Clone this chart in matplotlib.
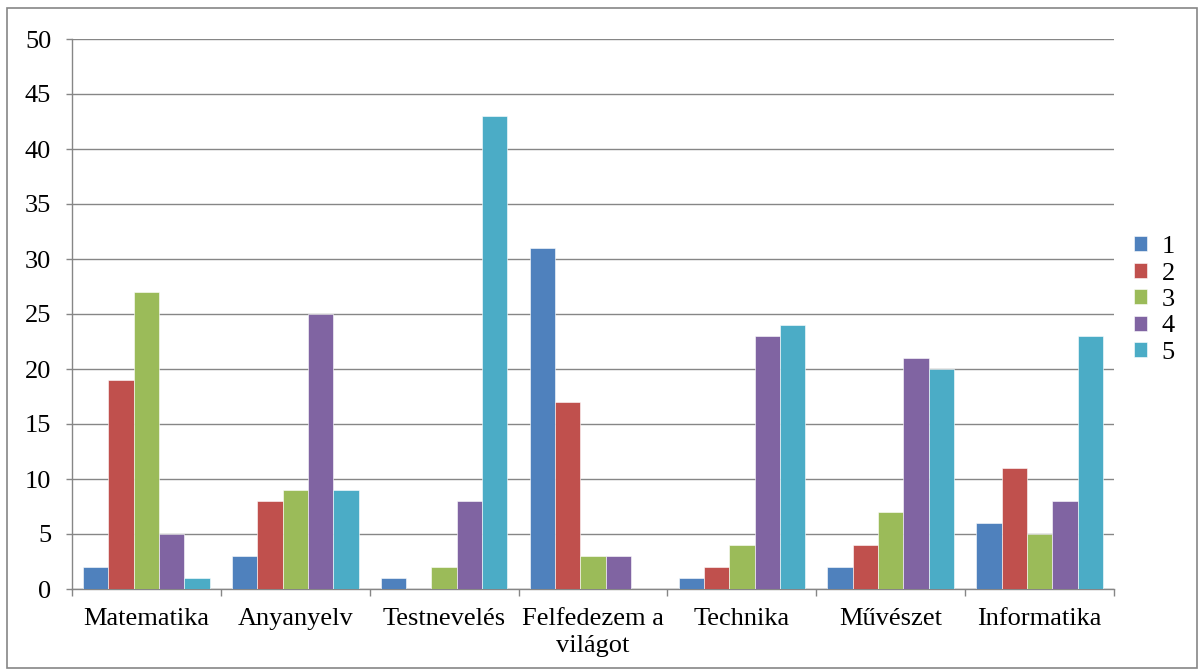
import numpy as np
import matplotlib.pyplot as plt
from matplotlib.patches import Rectangle

categories = ['Matematika', 'Anyanyelv', 'Testnevelés', 'Felfedezem a\nvilágot',
              'Technika', 'Művészet', 'Informatika']
series_names = ['1', '2', '3', '4', '5']
s1 = [2, 3, 1, 31, 1, 2, 6]
s2 = [19, 8, 0, 17, 2, 4, 11]
s3 = [27, 9, 2, 3, 4, 7, 5]
s4 = [5, 25, 8, 3, 23, 21, 8]
s5 = [1, 9, 43, 0, 24, 20, 23]
colors = ['#4F81BD', '#C0504D', '#9BBB59', '#8064A2', '#4BACC6']

plt.rcParams['font.family'] = ['Liberation Serif', 'DejaVu Serif']

fig = plt.figure(figsize=(12.04, 6.71), dpi=100)
ax = fig.add_axes([72/1204, 82/671, (1114-72)/1204, (589-39)/671])

x = np.arange(len(categories))
w = 0.17
for i, vals in enumerate([s1, s2, s3, s4, s5]):
    ax.bar(x + (i - 2) * w, vals, w, color=colors[i], label=series_names[i],
           edgecolor='white', linewidth=0.4, zorder=3)

ax.set_xlim(-0.5, len(categories) - 0.5)
ax.set_ylim(0, 50)
ax.set_yticks(range(0, 51, 5))
ax.set_xticks(x)
ax.set_xticklabels(categories, fontsize=19, linespacing=1.25)
ax.set_xticks(np.arange(-0.5, len(categories), 1), minor=True)
ax.tick_params(axis='x', which='major', length=0, pad=14)
ax.tick_params(axis='x', which='minor', length=5, color='#868686', width=1)
ax.tick_params(axis='y', length=4, color='#868686', width=1, labelsize=19, pad=11)
ax.yaxis.grid(True, color='#868686', linewidth=1, zorder=0)
for side in ['top', 'right']:
    ax.spines[side].set_visible(False)
for side in ['left', 'bottom']:
    ax.spines[side].set_color('#868686')
    ax.spines[side].set_linewidth(1)

leg = ax.legend(loc='center left', bbox_to_anchor=(1134/1204, (671-300)/671),
                bbox_transform=fig.transFigure, frameon=False, borderpad=0,
                borderaxespad=0, fontsize=19, handlelength=0.5, handleheight=0.5,
                labelspacing=0.17, handletextpad=0.55)

fig.patches.append(Rectangle((7/1204, 3/671), 1190/1204, 660/671, transform=fig.transFigure,
                             fill=False, edgecolor='#868686', linewidth=1.2))

fig.savefig('out.png', dpi=100)
